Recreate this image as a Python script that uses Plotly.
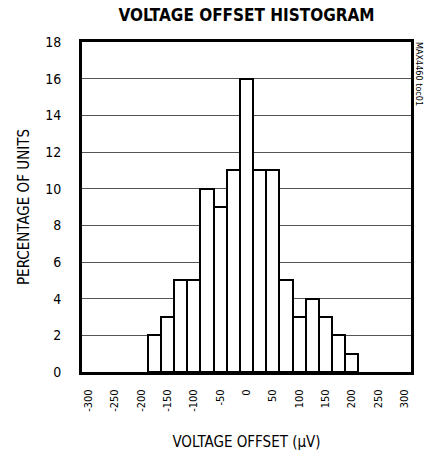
import plotly.graph_objects as go

# Histogram data
bin_centers = [-175, -150, -125, -100, -75, -50, -25, 0, 25, 50, 75, 100, 125, 150, 175, 200]
percent_units = [2, 3, 5, 5, 10, 9, 11, 16, 11, 11, 5, 3, 4, 3, 2, 1]
bin_width = 25
x_tick_vals = [-300, -250, -200, -150, -100, -50, 0, 50, 100, 150, 200, 250, 300]
x_tick_text = [str(v) for v in x_tick_vals]
y_tick_vals = [0, 2, 4, 6, 8, 10, 12, 14, 16, 18]
x_range = [-312.5, 312.5]

# bin-edge tick marks only where there are no bars
lo_edge = min(bin_centers) - bin_width / 2
hi_edge = max(bin_centers) + bin_width / 2
edge_ticks = []
e = x_range[0] + bin_width
while e < x_range[1]:
    if e < lo_edge or e > hi_edge:
        edge_ticks.append(e)
    e += bin_width

NARROW = "DejaVu Sans Condensed, Roboto, sans-serif"

fig = go.Figure()
fig.add_trace(go.Bar(
    x=bin_centers,
    y=percent_units,
    width=[bin_width] * len(bin_centers),
    marker=dict(color="white", line=dict(color="black", width=2)),
    showlegend=False,
    hoverinfo="skip",
))

fig.update_layout(
    width=426, height=451,
    margin=dict(l=82, r=15, t=42, b=79),
    paper_bgcolor="white",
    plot_bgcolor="white",
    bargap=0,
    title=dict(
        text="VOLTAGE OFFSET HISTOGRAM",
        font=dict(family=NARROW, size=17, color="black", weight="bold"),
        x=0.5, xanchor="center", xref="paper",
        y=0.966, yanchor="middle",
    ),
    xaxis=dict(
        range=x_range,
        tickvals=x_tick_vals,
        ticktext=x_tick_text,
        tickangle=-90,
        tickfont=dict(family=NARROW, size=11, color="black"),
        ticks="",
        ticklabelstandoff=10,
        showgrid=False,
        zeroline=False,
        automargin=False,
        showline=True, linecolor="black", linewidth=3, mirror=True,
        title=dict(text="VOLTAGE OFFSET (μV)",
                   font=dict(family=NARROW, size=15, color="black"),
                   standoff=29),
    ),
    xaxis2=dict(
        overlaying="x", matches="x", side="bottom",
        tickvals=edge_ticks, showticklabels=False,
        ticks="outside", ticklen=4, tickcolor="black", tickwidth=1,
        showgrid=False, zeroline=False, showline=False,
    ),
    yaxis=dict(
        range=[0, 18],
        tickvals=y_tick_vals,
        tickfont=dict(family=NARROW, size=14, color="black"),
        ticks="",
        ticklabelstandoff=15,
        showgrid=True, gridcolor="#555555", gridwidth=1,
        zeroline=False,
        automargin=False,
        showline=True, linecolor="black", linewidth=3, mirror=True,
        title=dict(text="PERCENTAGE OF UNITS",
                   font=dict(family=NARROW, size=15, color="black"),
                   standoff=12),
    ),
    annotations=[dict(
        text="MAX4460 toc01",
        xref="paper", yref="paper",
        x=1.0, y=1.0, xanchor="left", yanchor="top",
        xshift=1, yshift=2,
        textangle=90, showarrow=False,
        font=dict(family=NARROW, size=9, color="black"),
    )],
)

fig.write_html(
    "out.html",
    config={"displayModeBar": False},
    post_script="document.body.style.margin='0';"
                "document.documentElement.style.overflow='hidden';",
)
